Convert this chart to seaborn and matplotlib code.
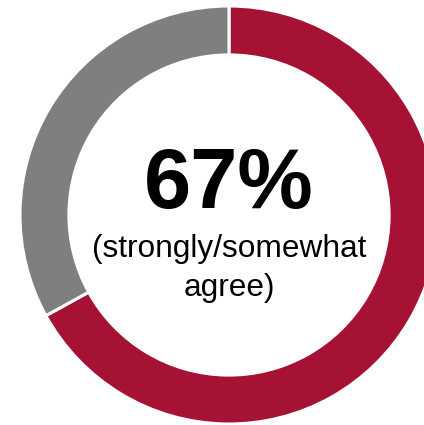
import matplotlib
matplotlib.use("Agg")
import matplotlib.pyplot as plt
import seaborn as sns

# --- data ---
segments = ["Strongly/somewhat agree", "Other"]
shares = [67, 33]
seg_colors = ["#A51234", "#7F7F7F"]
headline = "67%"
sub_lines = ["(strongly/somewhat", "agree)"]

sns.set_theme(style="white")
plt.rcParams["font.family"] = ["Liberation Sans", "DejaVu Sans"]

W, H, DPI = 424, 425, 100
R_PX = 209          # outer radius in pixels
CX, CY = 229, 215   # centre in pixels (from top-left)

fig = plt.figure(figsize=(W / DPI, H / DPI), dpi=DPI)
ax = fig.add_axes([0, 0, 1, 1])

ax.pie(shares, colors=sns.color_palette(seg_colors), startangle=90, counterclock=False,
       radius=1.0, wedgeprops=dict(width=0.234, edgecolor="white", linewidth=2.2))

ax.set_xlim(-CX / R_PX, (W - CX) / R_PX)
ax.set_ylim(-(H - CY) / R_PX, CY / R_PX)
ax.set_aspect("auto")
ax.axis("off")

def ypx(py):
    return (CY - py) / R_PX

ax.text(0, ypx(208), headline, ha="center", va="baseline",
        fontsize=61, fontweight="bold", color="black")
ax.text(0, ypx(257), sub_lines[0], ha="center", va="baseline", fontsize=22.8, color="black")
ax.text(0, ypx(296), sub_lines[1], ha="center", va="baseline", fontsize=22.8, color="black")

fig.savefig("out.png", dpi=DPI, facecolor="white")
